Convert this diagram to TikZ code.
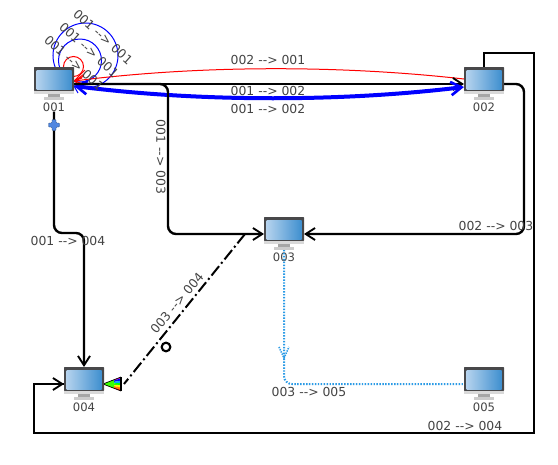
\documentclass[tikz,border=0pt]{standalone}
\usepackage{fontspec}
\setmainfont{DejaVu Sans}
\usetikzlibrary{arrows.meta,calc,decorations.markings}
\definecolor{scr}{HTML}{3F8FCF}
\definecolor{scrl}{HTML}{B5D3EE}
\definecolor{frame}{HTML}{48484A}
\definecolor{dots}{HTML}{2B9BE6}
\definecolor{txt}{HTML}{444444}
\definecolor{plusc}{HTML}{4F86E0}
\newcommand{\arr}{-{}->}
\tikzset{
 x=0.75pt,y=-0.75pt,
 host/.style={minimum width=30pt,minimum height=24.75pt,inner sep=0pt,outer sep=0pt},
 hostlabel/.style={font=\fontsize{8.7pt}{10pt}\selectfont,text=txt,inner sep=0pt},
 lab/.style={font=\fontsize{9.3pt}{11pt}\selectfont,text=txt,inner sep=0pt},
 wire/.style={draw=black,line width=1.8pt,rounded corners=6pt},
 tip/.style={-{Straight Barb[length=7pt,width=9pt,line width=1.4pt]}},
 bluetip/.style={{Straight Barb[length=8pt,width=10pt,line width=2pt]}-{Straight Barb[length=8pt,width=10pt,line width=2pt]}},
}
\newcommand{\monitor}[1]{%
 \begin{scope}[shift={(#1)}]
 \fill[frame,rounded corners=0.5pt] (0,0) rectangle (40,24);
 \shade[shading=axis,shading angle=60,left color=scrl,right color=scr] (2.5,3) rectangle (37.5,22);
 \fill[black!15] (0,24) rectangle (40,27);
 \fill[black!35] (14,27) rectangle (26,30);
 \fill[black!20] (10,30) rectangle (30,32.5);
 \end{scope}}
\begin{document}
\begin{tikzpicture}
\useasboundingbox (0,0) rectangle (558,465);
\fill[white] (0,0) rectangle (558,465);
% nodes
\node[host] (a) at (54,83.5) {};
\node[host] (b) at (484,83.5) {};
\node[host] (c) at (284,233.5) {};
\node[host] (d) at (84,383.5) {};
\node[host] (e) at (484,383.5) {};
\node[hostlabel] (la) at (54,107) {001};
\node[hostlabel] (lb) at (484,107) {002};
\node[hostlabel] (lc) at (284,257) {003};
\node[hostlabel] (ld) at (84,407) {004};
\node[hostlabel] (le) at (484,407) {005};
\coordinate (a1) at (74,84);
\coordinate (a2) at (74,86);
\coordinate (a3) at (74,81);
\coordinate (b1) at (464,84);
\coordinate (b2) at (464,87);
\coordinate (b3) at (464,79);
% self loops
\draw[blue,line width=0.75pt] (85.5,55.5) circle [radius=32.5];
\draw[blue,line width=0.75pt] (80,60.5) circle [radius=21.5];
\draw[red,line width=0.75pt] (73.5,66.5) circle [radius=10];
\draw[blue,line width=0.75pt] (81,89) -- (a2) -- (78,93);
\draw[red,line width=0.75pt] (85,70) -- (a3) -- (84,76);
\draw[red,line width=0.75pt] (82,78) -- (a3) -- (79,84);
% connectors
\draw[red,line width=0.75pt,-{Straight Barb[length=7pt,width=8pt]}] (b3) .. controls (340,65) and (200,65) .. (a3);
\draw[wire,tip] (a1) -- (b1);
\draw[blue,line width=3pt,bluetip] (a2) .. controls (200,102) and (340,102) .. (b2);
\coordinate (c1) at (264,234);
\coordinate (c2) at (304,234);
\draw[wire,tip] (a1) -- (168,84) -- (168,234) -- (c1);
\draw[wire,tip] (504,84) -- (524,84) -- (524,234) -- (c2);
\draw[line width=1.8pt] (b.north) -- (484,53) -- (534,53) -- (534,433) -- (34,433) -- (34,384) -- (64,384);
\draw[line width=1.8pt,tip] (34,384) -- (64,384);
\draw[wire,tip] (la.south) -- (54,233) -- (84,233) -- (84,367);
\draw[dots,line width=1.5pt,dash pattern=on 1.1pt off 1.1pt,rounded corners=6pt] (284,250) -- (284,384) -- (e.west |- 0,384);
\draw[dots,line width=1.2pt,dash pattern=on 1pt off 0.8pt] (279,347) -- (284,358) -- (289,347);
\draw[line width=1.5pt,dash pattern=on 9pt off 2.5pt on 1.5pt off 2.5pt] (245,234) -- (124,384);
% rainbow arrow tip
\begin{scope}
\clip (103,384) -- (121,377) -- (121,391) -- cycle;
\fill[magenta] (103,384) -- (121,376) -- (121,378.3) -- cycle;
\fill[blue] (103,384) -- (121,378.3) -- (121,380.6) -- cycle;
\fill[cyan] (103,384) -- (121,380.6) -- (121,382.9) -- cycle;
\fill[green] (103,384) -- (121,382.9) -- (121,385.2) -- cycle;
\fill[yellow] (103,384) -- (121,385.2) -- (121,387.5) -- cycle;
\fill[orange] (103,384) -- (121,387.5) -- (121,389.8) -- cycle;
\fill[red] (103,384) -- (121,389.8) -- (121,392) -- cycle;
\fill[green!70!lime] (103,384) -- (114,379) -- (114,389) -- cycle;
\end{scope}
\draw[black,line width=0.8pt,line join=miter] (121,377) -- (121,391);
\draw[black,line width=0.5pt] (103,384) -- (121,377) (103,384) -- (121,391);
\node[circle,draw=black,line width=1.6pt,minimum size=6.5pt,inner sep=0pt] (hd) at (166,347) {};
% plus
\fill[plusc,draw=plusc!60!black,line width=0.3pt,rounded corners=0.6pt]
 (52,119.5) -- (56,119.5) -- (56,123) -- (59.5,123) -- (59.5,127) -- (56,127) -- (56,130.5) -- (52,130.5) -- (52,127) -- (48.5,127) -- (48.5,123) -- (52,123) -- cycle;
% monitors
\monitor{34,67}\monitor{464,67}\monitor{264,217}\monitor{64,367}\monitor{464,367}
% labels
\node[lab] (t1) at (268,60) {002 \arr{} 001};
\node[lab] (t2) at (268,91) {001 \arr{} 002};
\node[lab] (t3) at (268,109) {001 \arr{} 002};
\node[lab,rotate=-90] (t4) at (161,157) {001 \arr{} 003};
\node[lab] (t5) at (496,226) {002 \arr{} 003};
\node[lab] (t6) at (465,426) {002 \arr{} 004};
\node[lab] (t7) at (68,241) {001 \arr{} 004};
\node[lab] (t8) at (309,392) {003 \arr{} 005};
\node[lab,rotate=50] (t9) at (177,303) {003 \arr{} 004};
\node[lab,rotate=-42] (t10) at (103,37) {001 \arr{} 001};
\node[lab,rotate=-42] (t11) at (89,50) {001 \arr{} 001};
\node[lab,rotate=-42] (t12) at (74,63) {001 \arr{} 001};
\end{tikzpicture}
\end{document}
